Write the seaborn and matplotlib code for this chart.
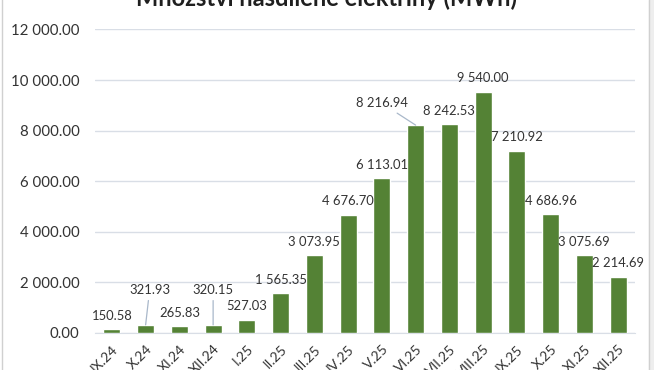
import pandas as pd
import seaborn as sns
import matplotlib.pyplot as plt
from matplotlib.patches import Rectangle

# monthly values
months = ["IX.24", "X.24", "XI.24", "XII.24", "I.25", "II.25", "III.25", "IV.25",
          "V.25", "VI.25", "VII.25", "VIII.25", "IX.25", "X.25", "XI.25", "XII.25"]
values = [150.58, 321.93, 265.83, 320.15, 527.03, 1565.35, 3073.95, 4676.70,
          6113.01, 8216.94, 8242.53, 9540.00, 7210.92, 4686.96, 3075.69, 2214.69]
yticks = [0, 2000, 4000, 6000, 8000, 10000, 12000]

df = pd.DataFrame({"month": months, "mwh": values})

sns.set_style("white")
plt.rcParams["font.family"] = ["Lato", "DejaVu Sans"]

txt = "#333333"
grid = "#D9DEE6"

def fmt(v):
    return f"{v:,.2f}".replace(",", " ")

fig = plt.figure(figsize=(6.54, 3.7), dpi=100)
# chart frame like the Excel export
fig.patches.append(Rectangle((649 / 654, 0), 5 / 654, 1, transform=fig.transFigure,
                             color="#EEEEEE", zorder=0))
fig.patches.append(Rectangle((2 / 654, -0.01), 647 / 654, 1.02, transform=fig.transFigure,
                             fill=False, edgecolor="#D0D0D0", lw=1, zorder=1))

ax = fig.add_axes([95 / 654, 37 / 370, 540 / 654, 303.6 / 370])
sns.barplot(data=df, x="month", y="mwh", color="#548235", saturation=1,
            width=0.5, ax=ax, zorder=3)

ax.set_ylim(0, 12000)
ax.set_yticks(yticks)
ax.set_yticklabels([fmt(t) for t in yticks], fontsize=10.8, color=txt)
ax.set_xlim(-0.5, len(months) - 0.5)
ax.tick_params(axis="y", length=0, pad=11)
ax.tick_params(axis="x", length=0, pad=7)
plt.setp(ax.get_xticklabels(), rotation=45, ha="right", va="top",
         rotation_mode="anchor", fontsize=10, color=txt)
ax.set_xlabel("")
ax.set_ylabel("")
ax.grid(axis="y", color=grid, lw=1, zorder=0)
for s in ["top", "right", "left"]:
    ax.spines[s].set_visible(False)
ax.spines["bottom"].set_color(grid)

# data labels (a few were moved by hand in the original, with leader lines)
moved = {1: (4, 35), 3: (0, 35), 9: (-34, 22)}
line = dict(arrowstyle="-", color="#A9B8CA", lw=0.9, shrinkA=1, shrinkB=0)
for i, v in enumerate(values):
    dx, dy = moved.get(i, (0, 13.5))
    ax.annotate(fmt(v), xy=(i, v), xytext=(dx, dy), textcoords="offset pixels",
                ha="center", va="center", fontsize=9.4, color=txt,
                arrowprops=line if i in moved else None, zorder=4)

# title sits partly above the top edge, as in the cropped original
fig.text(0.5, 1 - 6.5 / 370, "Množství nasdílené elektřiny (MWh)", ha="center",
         va="baseline", fontsize=17, fontweight="bold", color="#1F1F1F")

fig.savefig("out.png", dpi=100)
